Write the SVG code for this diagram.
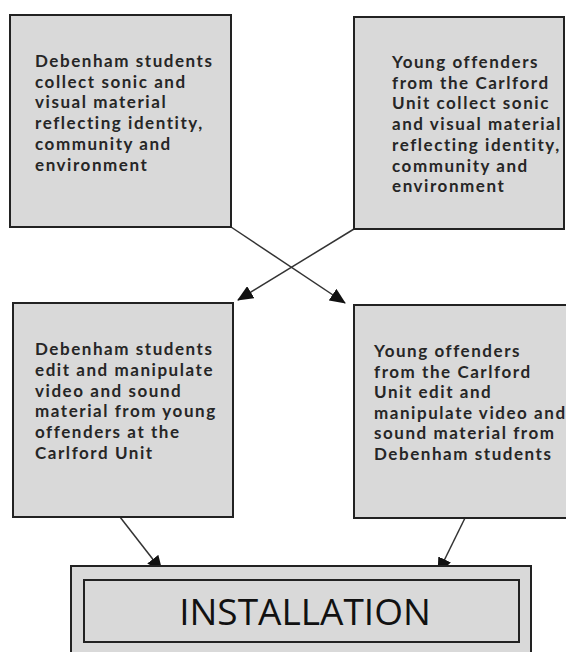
<svg xmlns="http://www.w3.org/2000/svg" width="566" height="652" viewBox="0 0 566 652">
<style>
.box{fill:#d9d9d9;stroke:#222;stroke-width:2}
.t{font-family:Lato,"Open Sans","Liberation Sans",sans-serif;font-weight:700;font-size:17px;letter-spacing:1.55px;fill:#262626}
.big{font-family:"Open Sans","Liberation Sans",sans-serif;font-weight:400;font-size:37px;fill:#111}
.c{stroke:#333;stroke-width:1.5;fill:none;marker-end:url(#ah)}
</style>
<defs>
<marker id="ah" markerUnits="userSpaceOnUse" markerWidth="16" markerHeight="14" refX="15" refY="7" orient="auto">
<path d="M0,0 L16,7 L0,14 z" fill="#111"/>
</marker>
</defs>
<rect width="566" height="652" fill="#fff"/>
<g id="connectors">
<line class="c" x1="231" y1="227" x2="345" y2="303"/>
<line class="c" x1="354" y1="229" x2="238" y2="300"/>
<line class="c" x1="120" y1="517" x2="162" y2="571"/>
<line class="c" x1="465" y1="518" x2="438" y2="573"/>
</g>
<g id="n1">
<rect class="box" x="10" y="15" width="221" height="212"/>
<text class="t"><tspan x="35" y="67">Debenham students</tspan><tspan x="35" y="87.7">collect sonic and</tspan><tspan x="35" y="108.4">visual material</tspan><tspan x="35" y="129.1">reflecting identity,</tspan><tspan x="35" y="149.8">community and</tspan><tspan x="35" y="170.5">environment</tspan></text>
</g>
<g id="n2">
<rect class="box" x="354" y="17" width="210" height="212"/>
<text class="t"><tspan x="392" y="68">Young offenders</tspan><tspan x="392" y="88.7">from the Carlford</tspan><tspan x="392" y="109.4">Unit collect sonic</tspan><tspan x="392" y="130.1">and visual material</tspan><tspan x="392" y="150.8">reflecting identity,</tspan><tspan x="392" y="171.5">community and</tspan><tspan x="392" y="192.2">environment</tspan></text>
</g>
<g id="n3">
<rect class="box" x="13" y="303" width="220" height="214"/>
<text class="t"><tspan x="35" y="355">Debenham students</tspan><tspan x="35" y="375.8">edit and manipulate</tspan><tspan x="35" y="396.6">video and sound</tspan><tspan x="35" y="417.4">material from young</tspan><tspan x="35" y="438.2">offenders at the</tspan><tspan x="35" y="459">Carlford Unit</tspan></text>
</g>
<g id="n4">
<rect class="box" x="354" y="305" width="220" height="213"/>
<text class="t"><tspan x="374" y="357">Young offenders</tspan><tspan x="374" y="377.6">from the Carlford</tspan><tspan x="374" y="398.2">Unit edit and</tspan><tspan x="374" y="418.8">manipulate video and</tspan><tspan x="374" y="439.4">sound material from</tspan><tspan x="374" y="460">Debenham students</tspan></text>
</g>
<g id="n5">
<rect class="box" x="71" y="566" width="460" height="100"/>
<rect class="box" x="84" y="580" width="435" height="62"/>
<text class="big" x="305" y="625" text-anchor="middle">INSTALLATION</text>
</g>
</svg>
